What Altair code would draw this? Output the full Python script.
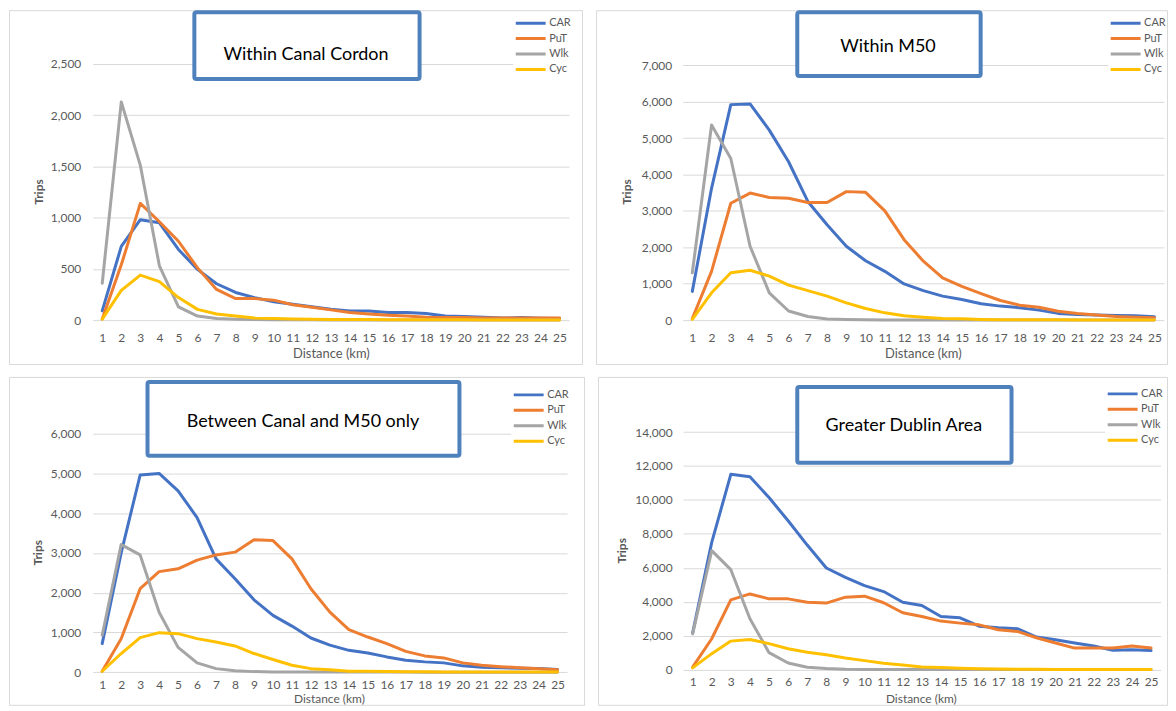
import altair as alt
import pandas as pd

# ---------------- data ----------------
distance = list(range(1, 26))
series = ["CAR", "PuT", "Wlk", "Cyc"]
colors = ["#4472C4", "#ED7D31", "#A5A5A5", "#FFC000"]

# Within Canal Cordon
canal_car = [90, 720, 980, 950, 690, 495, 355, 270, 220, 180, 155, 130, 107, 90, 90, 75, 75, 65, 40, 35, 28, 20, 25, 18, 15]
canal_put = [10, 540, 1140, 960, 770, 510, 300, 210, 210, 195, 150, 125, 100, 75, 60, 48, 40, 28, 25, 25, 20, 20, 20, 20, 20]
canal_wlk = [360, 2130, 1510, 530, 130, 40, 15, 8, 5, 4, 3, 3, 2, 2, 2, 1, 1, 1, 1, 1, 1, 1, 1, 1, 1]
canal_cyc = [10, 290, 440, 375, 220, 105, 60, 40, 20, 15, 12, 8, 6, 5, 5, 4, 4, 3, 3, 3, 2, 2, 2, 2, 2]

# Within M50
m50_car = [790, 3620, 5920, 5940, 5220, 4350, 3260, 2620, 2030, 1630, 1340, 995, 810, 660, 565, 450, 385, 340, 275, 185, 155, 140, 130, 120, 95]
m50_put = [40, 1340, 3210, 3490, 3370, 3350, 3230, 3230, 3530, 3510, 3000, 2210, 1620, 1160, 930, 730, 540, 410, 355, 245, 185, 140, 100, 80, 65]
m50_wlk = [1300, 5360, 4440, 2030, 750, 250, 100, 30, 15, 8, 6, 5, 4, 4, 3, 3, 3, 2, 2, 2, 2, 2, 2, 2, 2]
m50_cyc = [20, 750, 1300, 1370, 1210, 960, 810, 660, 475, 320, 200, 120, 80, 45, 35, 20, 12, 10, 8, 8, 6, 6, 5, 5, 5]

# Between Canal and M50 only
between_car = [720, 3000, 4960, 5000, 4560, 3890, 2850, 2350, 1820, 1430, 1160, 860, 680, 550, 485, 385, 300, 260, 235, 160, 125, 110, 100, 95, 70]
between_put = [25, 840, 2100, 2530, 2600, 2820, 2950, 3020, 3330, 3310, 2850, 2100, 1510, 1070, 885, 720, 525, 410, 360, 235, 175, 140, 115, 85, 60]
between_wlk = [930, 3210, 2950, 1510, 625, 235, 90, 35, 15, 8, 6, 5, 4, 4, 3, 3, 3, 2, 2, 2, 2, 2, 2, 2, 2]
between_cyc = [25, 470, 870, 995, 970, 845, 760, 660, 470, 320, 175, 90, 60, 25, 25, 15, 10, 10, 8, 8, 6, 6, 5, 5, 5]

# Greater Dublin Area
gda_car = [2150, 7500, 11510, 11360, 10140, 8770, 7340, 5990, 5440, 4950, 4600, 3970, 3780, 3130, 3050, 2560, 2470, 2410, 1920, 1760, 1570, 1390, 1140, 1175, 1120]
gda_put = [150, 1820, 4110, 4460, 4170, 4170, 3970, 3920, 4270, 4330, 3940, 3350, 3130, 2860, 2740, 2640, 2350, 2250, 1880, 1570, 1270, 1270, 1270, 1390, 1270]
gda_wlk = [2110, 7010, 5890, 3000, 1000, 390, 140, 60, 20, 10, 8, 6, 5, 5, 4, 4, 4, 3, 3, 3, 3, 3, 3, 3, 3]
gda_cyc = [100, 940, 1680, 1780, 1530, 1230, 1020, 880, 690, 530, 370, 270, 160, 120, 80, 50, 30, 20, 15, 12, 10, 10, 8, 8, 8]

titles = ["Within Canal Cordon", "Within M50", "Between Canal and M50 only", "Greater Dublin Area"]

FONT = "Lato"
GREY = "#595959"
BOX = "#4F81BD"


def panel(title, vals, ymax, step, g):
    rows = []
    for s, arr in zip(series, vals):
        for d, v in zip(distance, arr):
            rows.append({"Distance": d, "Mode": s, "Trips": v})
    df = pd.DataFrame(rows)
    W, H = g["W"], g["H"]
    x0, x1 = g["xr"]
    y0, ytop = g["yr"]
    lines = alt.Chart(df).mark_line(strokeWidth=3, strokeJoin="round", strokeCap="round").encode(
        x=alt.X("Distance:O",
                scale=alt.Scale(type="point", domain=distance, range=[x0, x1], padding=0.5),
                axis=alt.Axis(title="Distance (km)", labelAngle=0, domain=False, ticks=False, tickSize=0,
                              labelPadding=g["xpad"], offset=y0 - H, grid=False,
                              labelFont=FONT, labelFontSize=12, labelColor=GREY,
                              titleFont=FONT, titleFontSize=g["dfs"], titleFontWeight="normal", titleColor=GREY,
                              titleX=g["dist"][0], titleY=g["dist"][1] - y0, titleBaseline="middle",
                              titleAlign="center")),
        y=alt.Y("Trips:Q",
                scale=alt.Scale(domain=[0, ymax], range=[y0, ytop], nice=False, zero=True),
                axis=alt.Axis(title="Trips", values=list(range(0, ymax + 1, step)), format=",d",
                              domain=False, ticks=False, tickSize=0, labelPadding=g["ypad"], offset=-x0,
                              grid=True, gridColor="#D9D9D9", gridWidth=1,
                              labelFont=FONT, labelFontSize=12, labelColor=GREY,
                              titleFont=FONT, titleFontSize=12, titleFontWeight="bold", titleColor=GREY,
                              titleX=g["trips"][0] - x0, titleY=g["trips"][1], titleAngle=270,
                              titleAlign="center", titleBaseline="middle")),
        color=alt.Color("Mode:N", sort=series,
                        scale=alt.Scale(domain=series, range=colors),
                        legend=alt.Legend(orient="none", legendX=g["leg"][0], legendY=g["leg"][1],
                                          title=None, symbolType="stroke", symbolStrokeWidth=3,
                                          symbolSize=900, clipHeight=12, rowPadding=3.5, labelOffset=2,
                                          labelFont=FONT, labelFontSize=11, labelColor=GREY,
                                          fillColor="white", padding=1)),
    )
    tdf = pd.DataFrame({"label": [title]})
    bx = g["box"]
    box = alt.Chart(tdf).mark_rect(fill="white", stroke=BOX, strokeWidth=4, cornerRadius=2).encode(
        x=alt.value(bx[0]), x2=alt.value(bx[1]), y=alt.value(bx[2]), y2=alt.value(bx[3])
    )
    txt = alt.Chart(tdf).mark_text(font=FONT, fontSize=18, color="black", align="center",
                                   baseline="middle").encode(
        x=alt.value(g["txt"][0]), y=alt.value(g["txt"][1]), text="label:N"
    )
    return alt.layer(lines, box, txt).properties(width=W, height=H)


g1 = dict(W=575, H=355, xr=(84, 562), yr=(311, 54), xpad=12, ypad=12, dfs=13,
          box=(186, 412, 2, 69), txt=(298, 45), leg=(506, 6), trips=(30, 182), dist=(323, 345))
g2 = dict(W=573, H=355, xr=(87, 570), yr=(311, 55.3), xpad=12, ypad=11, dfs=13,
          box=(202, 386, 2, 66), txt=(293, 37), leg=(514, 6), trips=(31, 182), dist=(328, 345))
g3 = dict(W=577, H=329, xr=(84, 560), yr=(296.3, 56.9), xpad=7, ypad=12, dfs=12,
          box=(139, 452, 5, 79), txt=(295, 45), leg=(504, 11), trips=(29, 176), dist=(321, 323))
g4 = dict(W=571, H=329, xr=(85.4, 564.6), yr=(293.7, 55.3), xpad=7, ypad=11, dfs=12,
          box=(200, 415, 10, 86), txt=(307, 49), leg=(509, 10), trips=(24, 174), dist=(324, 323))

p1 = panel(titles[0], [canal_car, canal_put, canal_wlk, canal_cyc], 2500, 500, g1)
p2 = panel(titles[1], [m50_car, m50_put, m50_wlk, m50_cyc], 7000, 1000, g2)
p3 = panel(titles[2], [between_car, between_put, between_wlk, between_cyc], 6000, 1000, g3)
p4 = panel(titles[3], [gda_car, gda_put, gda_wlk, gda_cyc], 14000, 2000, g4)

row1 = alt.hconcat(p1, p2, spacing=12).resolve_scale(
    x="independent", y="independent", color="independent").resolve_legend(color="independent")
row2 = alt.hconcat(p3, p4, spacing=12).resolve_scale(
    x="independent", y="independent", color="independent").resolve_legend(color="independent")

chart = alt.vconcat(row1, row2, spacing=11).resolve_scale(
    x="independent", y="independent", color="independent").resolve_legend(color="independent").properties(
    padding=0, background="white"
).configure_view(stroke="#D9D9D9", strokeWidth=1)

chart.save("out.html", embed_options={"renderer": "svg", "actions": False})
